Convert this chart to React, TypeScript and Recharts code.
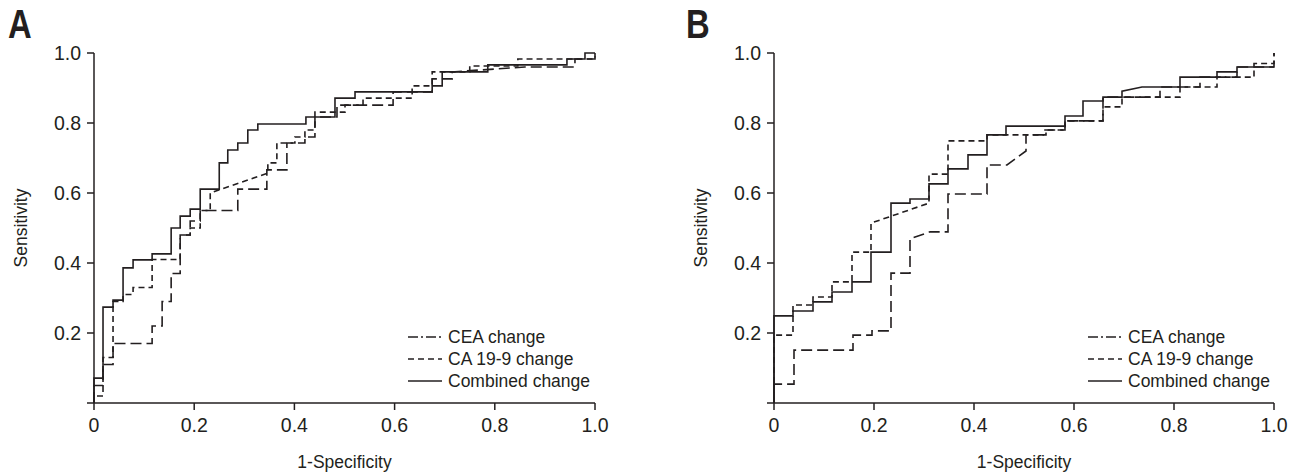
import { LineChart, Line, XAxis, YAxis, Legend } from 'recharts';

const xTicks = [0, 0.2, 0.4, 0.6, 0.8, 1.0];
const yTicks = [0, 0.2, 0.4, 0.6, 0.8, 1.0];
const seriesNames = ['CEA change', 'CA 19-9 change', 'Combined change'];

// Panel A
const ceaA: [number, number][] = [
  [0, 0], [0, 0.05], [0.018, 0.05], [0.018, 0.11], [0.038, 0.11], [0.038, 0.17], [0.116, 0.17],
  [0.116, 0.22], [0.136, 0.22], [0.136, 0.29], [0.154, 0.29], [0.154, 0.37], [0.172, 0.37],
  [0.172, 0.48], [0.192, 0.48], [0.192, 0.52], [0.212, 0.52], [0.212, 0.55], [0.287, 0.55],
  [0.287, 0.611], [0.345, 0.611], [0.345, 0.666], [0.385, 0.666], [0.385, 0.743], [0.421, 0.743],
  [0.421, 0.76], [0.441, 0.76], [0.441, 0.817], [0.485, 0.817], [0.485, 0.851], [0.597, 0.851],
  [0.597, 0.889], [0.675, 0.889], [0.675, 0.926], [0.715, 0.926], [0.715, 0.946], [0.86, 0.96],
  [0.96, 0.96], [0.96, 0.983], [1, 0.983], [1, 1],
];
const caA: [number, number][] = [
  [0, 0], [0, 0.02], [0.018, 0.02], [0.018, 0.13], [0.038, 0.13], [0.038, 0.29], [0.058, 0.29],
  [0.058, 0.31], [0.078, 0.31], [0.078, 0.33], [0.116, 0.33], [0.116, 0.41], [0.172, 0.41],
  [0.172, 0.48], [0.192, 0.48], [0.192, 0.5], [0.212, 0.5], [0.212, 0.55], [0.232, 0.55],
  [0.232, 0.6], [0.347, 0.657], [0.347, 0.686], [0.365, 0.686], [0.365, 0.743], [0.401, 0.743],
  [0.401, 0.76], [0.421, 0.76], [0.421, 0.78], [0.441, 0.78], [0.441, 0.831], [0.501, 0.831],
  [0.501, 0.851], [0.537, 0.851], [0.537, 0.871], [0.635, 0.871], [0.635, 0.906], [0.675, 0.906],
  [0.675, 0.946], [0.75, 0.946], [0.75, 0.963], [0.846, 0.963], [0.846, 0.983], [1, 0.983], [1, 1],
];
const combA: [number, number][] = [
  [0, 0], [0, 0.071], [0.018, 0.071], [0.018, 0.274], [0.038, 0.274], [0.038, 0.294],
  [0.058, 0.294], [0.058, 0.386], [0.078, 0.386], [0.078, 0.409], [0.116, 0.409], [0.116, 0.426],
  [0.154, 0.426], [0.154, 0.5], [0.172, 0.5], [0.172, 0.534], [0.192, 0.534], [0.192, 0.554],
  [0.212, 0.554], [0.212, 0.611], [0.25, 0.611], [0.25, 0.686], [0.267, 0.686], [0.267, 0.723],
  [0.287, 0.723], [0.287, 0.743], [0.307, 0.743], [0.307, 0.78], [0.327, 0.78], [0.327, 0.797],
  [0.423, 0.797], [0.423, 0.817], [0.481, 0.817], [0.481, 0.871], [0.521, 0.871], [0.521, 0.889],
  [0.675, 0.889], [0.675, 0.906], [0.695, 0.906], [0.695, 0.946], [0.786, 0.946], [0.786, 0.966],
  [0.944, 0.966], [0.944, 0.983], [0.98, 0.983], [0.98, 1], [1, 1],
];

// Panel B
const ceaB: [number, number][] = [
  [0, 0], [0, 0.054], [0.04, 0.054], [0.04, 0.151], [0.158, 0.151], [0.158, 0.194], [0.196, 0.194],
  [0.196, 0.206], [0.234, 0.206], [0.234, 0.371], [0.272, 0.371], [0.272, 0.469], [0.312, 0.489],
  [0.348, 0.489], [0.348, 0.597], [0.426, 0.597], [0.426, 0.68], [0.466, 0.68], [0.504, 0.72],
  [0.504, 0.766], [0.542, 0.766], [0.542, 0.78], [0.582, 0.78], [0.582, 0.806], [0.658, 0.806],
  [0.658, 0.874], [0.772, 0.874], [0.772, 0.903], [0.852, 0.903], [0.852, 0.931], [0.926, 0.931],
  [0.926, 0.96], [1, 0.96], [1, 0.99], [1, 1],
];
const caB: [number, number][] = [
  [0, 0], [0, 0.194], [0.038, 0.194], [0.038, 0.28], [0.078, 0.28], [0.078, 0.303], [0.116, 0.303],
  [0.116, 0.346], [0.156, 0.346], [0.156, 0.431], [0.194, 0.431], [0.194, 0.514], [0.31, 0.571],
  [0.31, 0.654], [0.348, 0.654], [0.348, 0.749], [0.426, 0.749], [0.426, 0.766], [0.544, 0.766],
  [0.544, 0.78], [0.582, 0.78], [0.582, 0.806], [0.658, 0.806], [0.658, 0.846], [0.696, 0.846],
  [0.696, 0.874], [0.812, 0.874], [0.812, 0.903], [0.886, 0.903], [0.886, 0.931], [0.96, 0.931],
  [0.96, 0.97], [1, 0.97], [1, 1],
];
const combB: [number, number][] = [
  [0, 0], [0, 0.249], [0.038, 0.249], [0.038, 0.263], [0.078, 0.263], [0.078, 0.289], [0.116, 0.289],
  [0.116, 0.317], [0.156, 0.317], [0.156, 0.346], [0.194, 0.346], [0.194, 0.431], [0.234, 0.431],
  [0.234, 0.571], [0.272, 0.571], [0.272, 0.583], [0.31, 0.583], [0.31, 0.626], [0.348, 0.626],
  [0.348, 0.669], [0.388, 0.669], [0.388, 0.709], [0.426, 0.709], [0.426, 0.766], [0.464, 0.766],
  [0.464, 0.791], [0.582, 0.791], [0.582, 0.82], [0.618, 0.82], [0.618, 0.863], [0.658, 0.863],
  [0.658, 0.874], [0.696, 0.874], [0.696, 0.891], [0.736, 0.903], [0.812, 0.903], [0.812, 0.931],
  [0.886, 0.931], [0.886, 0.946], [0.926, 0.946], [0.926, 0.96], [1, 0.96],
];

const ink = '#231f20';
const font = '"Liberation Sans", Arial, sans-serif';
const dashes = ['11 5', '6 4', undefined];
const legendDashes = ['10 3 2 3', '6 4', undefined];

const toPoints = (pts: [number, number][]) => pts.map(([x, y]) => ({ x, y }));

function LegendBox({ left }: { left: number }) {
  return (
    <div style={{ position: 'absolute', left, top: 326, fontFamily: font, fontSize: 17.5, color: ink }}>
      {seriesNames.map((name, i) => (
        <div key={name} style={{ display: 'flex', alignItems: 'center', height: 22 }}>
          <svg width={34} height={10} style={{ marginRight: 6 }}>
            <line x1={0} y1={5} x2={34} y2={5} stroke={ink} strokeWidth={1.5} strokeDasharray={legendDashes[i]} />
          </svg>
          <span>{name}</span>
        </div>
      ))}
    </div>
  );
}

interface PanelProps {
  letter: string;
  letterLeft: number;
  left: number;
  width: number;
  axisWidth: number;
  plotWidth: number;
  series: [number, number][][];
  legendLeft: number;
}

function Panel({ letter, letterLeft, left, width, axisWidth, plotWidth, series, legendLeft }: PanelProps) {
  const tick = { fill: ink, fontSize: 19.5, fontFamily: font };
  return (
    <div style={{ position: 'absolute', left, top: 0, width, height: 472 }}>
      <div style={{ position: 'absolute', left: letterLeft, top: 2, fontFamily: font, fontWeight: 'bold', fontSize: 40, color: ink, transform: 'scaleX(0.82)', transformOrigin: 'left' }}>
        {letter}
      </div>
      <LineChart width={width} height={472} margin={{ top: 53, right: width - axisWidth - plotWidth, left: 0, bottom: 0 }}>
        <XAxis
          type="number"
          dataKey="x"
          domain={[0, 1]}
          ticks={xTicks}
          tickFormatter={(v: number) => (v === 0 ? '0' : v.toFixed(1))}
          height={69}
          stroke={ink}
          strokeWidth={1.5}
          tickSize={7}
          tickMargin={8}
          tick={tick}
          allowDuplicatedCategory={false}
          label={{ value: '1-Specificity', position: 'insideBottom', offset: 4, fill: ink, fontSize: 17.5, fontFamily: font }}
        />
        <YAxis
          type="number"
          domain={[0, 1]}
          ticks={yTicks}
          tickFormatter={(v: number) => (v === 0 ? '' : v.toFixed(1))}
          width={axisWidth}
          stroke={ink}
          strokeWidth={1.5}
          tickSize={7}
          tickMargin={6}
          tick={tick}
          label={{ value: 'Sensitivity', angle: -90, position: 'insideLeft', offset: axisWidth - 73, fill: ink, fontSize: 17.5, fontFamily: font, style: { textAnchor: 'middle' } }}
        />
        {series.map((pts, i) => (
          <Line
            key={seriesNames[i]}
            data={toPoints(pts)}
            dataKey="y"
            name={seriesNames[i]}
            type="linear"
            stroke={ink}
            strokeWidth={1.6}
            strokeDasharray={dashes[i]}
            dot={false}
            activeDot={false}
            isAnimationActive={false}
          />
        ))}
        <Legend content={() => null} />
      </LineChart>
      <LegendBox left={legendLeft} />
    </div>
  );
}

export default function App() {
  return (
    <div style={{ position: 'absolute', left: 0, top: 0, width: 1292, height: 472, background: '#fff' }}>
      <Panel letter="A" letterLeft={8} left={0} width={640} axisWidth={94} plotWidth={501} series={[ceaA, caA, combA]} legendLeft={408} />
      <Panel letter="B" letterLeft={46} left={640} width={652} axisWidth={134} plotWidth={500} series={[ceaB, caB, combB]} legendLeft={448} />
    </div>
  );
}
